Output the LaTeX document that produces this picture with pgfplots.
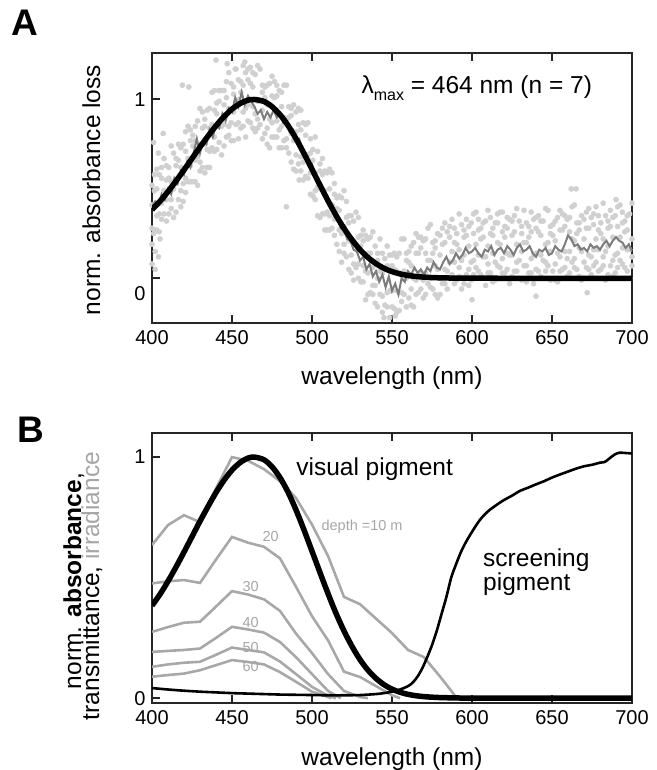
\documentclass[border=0pt]{standalone}
\usepackage{fontspec}
\setmainfont{Liberation Sans}
\usepackage{pgfplots}
\usepackage{pgfplotstable}
\pgfplotsset{compat=1.18}

\definecolor{dotgray}{HTML}{D0D0D0}
\definecolor{meangray}{HTML}{7C7C7C}
\definecolor{irrgray}{HTML}{A8A8A8}
\definecolor{lblgray}{HTML}{A6A6A6}
\definecolor{frame}{HTML}{262626}
\newcommand\fs[1]{\fontsize{#1}{#1}\selectfont}

% ---------- panel A: individual recordings (light dots)
\pgfplotstableread{
x a b c d
400 0.52 0.28 0.41 0.19
403 0.61 0.35 0.50 0.27
406 0.33 0.56 0.42 0.62
409 0.55 0.32 0.63 0.44
412 0.44 0.74 0.39 0.54
415 0.67 0.53 0.37 0.63
418 0.73 0.49 0.62 0.40
421 0.82 0.56 0.71 0.48
424 0.54 0.77 0.63 0.83
427 0.77 0.54 0.85 0.66
430 0.65 0.95 0.60 0.75
433 0.89 0.75 0.59 0.85
436 0.95 0.71 0.84 0.62
439 1.05 0.79 0.94 0.71
442 0.76 0.99 0.85 1.05
445 0.97 0.74 1.05 0.86
448 0.85 1.15 0.80 0.95
451 1.07 0.93 0.77 1.03
454 1.11 0.87 1.00 0.78
457 1.19 0.93 1.08 0.85
460 0.88 1.11 0.97 1.17
463 1.07 0.84 1.15 0.96
466 0.89 1.19 0.84 0.99
469 1.08 0.94 0.78 1.04
472 1.08 0.84 0.97 0.75
475 1.13 0.87 1.02 0.79
478 0.79 1.02 0.88 1.08
481 0.96 0.73 1.04 0.85
484 0.78 1.08 0.73 0.88
487 0.95 0.81 0.65 0.91
490 0.93 0.69 0.82 0.60
493 0.94 0.68 0.83 0.60
496 0.57 0.80 0.66 0.86
499 0.70 0.47 0.78 0.59
502 0.49 0.79 0.44 0.59
505 0.64 0.50 0.34 0.60
508 0.60 0.36 0.49 0.27
511 0.61 0.35 0.50 0.27
514 0.24 0.47 0.33 0.53
517 0.38 0.15 0.46 0.27
520 0.19 0.49 0.14 0.29
523 0.35 0.21 0.05 0.31
526 0.32 0.08 0.21 -0.01
529 0.34 0.08 0.23 0.00
532 -0.02 0.21 0.07 0.27
535 0.14 -0.09 0.22 0.03
538 -0.04 0.26 -0.09 0.06
541 0.14 0.00 -0.16 0.10
544 0.14 -0.10 0.03 -0.19
547 0.18 -0.08 0.07 -0.16
550 -0.16 0.07 -0.07 0.13
553 0.04 -0.19 0.12 -0.07
556 -0.08 0.22 -0.13 0.02
559 0.14 0.00 -0.16 0.10
562 0.18 -0.06 0.07 -0.15
565 0.25 -0.01 0.14 -0.09
568 -0.06 0.17 0.03 0.23
571 0.14 -0.09 0.22 0.03
574 0.00 0.30 -0.05 0.10
577 0.21 0.07 -0.09 0.17
580 0.24 0.00 0.13 -0.09
583 0.31 0.05 0.20 -0.03
586 0.00 0.23 0.09 0.29
589 0.20 -0.03 0.28 0.09
592 0.06 0.36 0.01 0.16
595 0.27 0.13 -0.03 0.23
598 0.29 0.05 0.18 -0.04
601 0.36 0.10 0.25 0.02
604 0.04 0.27 0.13 0.33
607 0.23 0.00 0.31 0.12
610 0.08 0.38 0.03 0.18
613 0.28 0.14 -0.02 0.24
616 0.07 0.31 0.20 0.36
619 0.26 0.11 0.37 0.03
622 0.34 0.05 0.14 0.28
625 0.13 0.24 0.01 0.32
628 0.39 0.09 0.19 0.04
631 0.15 0.29 -0.01 0.25
634 0.20 0.31 0.07 -0.02
637 0.03 0.26 0.37 0.11
640 0.28 0.14 0.05 0.34
643 0.24 0.32 0.13 0.01
646 0.09 0.19 0.39 0.04
649 0.29 -0.01 0.15 0.25
652 0.21 0.32 0.08 -0.01
655 0.12 0.38 0.04 0.27
658 0.35 0.06 0.29 0.15
661 0.26 0.34 0.03 0.15
664 0.11 0.41 0.21 0.06
667 0.31 0.01 0.17 0.27
670 0.22 0.33 0.00 0.09
673 0.05 0.28 0.39 0.13
676 0.30 0.16 0.07 0.36
679 0.16 0.27 0.35 0.04
682 0.42 0.12 0.22 0.07
685 0.18 0.32 0.02 0.28
688 0.23 0.01 0.34 0.10
691 0.40 0.14 0.06 0.29
694 0.31 0.08 0.37 0.17
697 0.16 0.27 0.04 0.35
700 0.22 0.12 0.42 0.07
}\dotsA

\pgfplotstableread{
x a b c
401.5 0.49 0.27 0.58
404.5 0.36 0.58 0.26
407.5 0.49 0.67 0.36
410.5 0.36 0.56 0.62
413.5 0.70 0.50 0.34
416.5 0.66 0.44 0.75
419.5 0.53 0.75 0.43
422.5 0.67 0.85 0.54
425.5 0.54 0.74 0.80
428.5 0.88 0.68 0.52
431.5 0.84 0.62 0.93
434.5 0.72 0.94 0.62
437.5 0.86 1.04 0.73
440.5 0.72 0.92 0.98
443.5 1.05 0.85 0.69
446.5 1.01 0.79 1.10
449.5 0.87 1.09 0.77
452.5 0.99 1.17 0.86
455.5 0.84 1.04 1.10
458.5 1.15 0.95 0.79
461.5 1.09 0.87 1.18
464.5 0.92 1.14 0.82
467.5 0.99 1.17 0.86
470.5 0.81 1.01 1.07
473.5 1.09 0.89 0.73
476.5 1.01 0.79 1.10
479.5 0.83 1.05 0.73
482.5 0.90 1.08 0.77
485.5 0.70 0.90 0.96
488.5 0.97 0.77 0.61
491.5 0.86 0.64 0.95
494.5 0.65 0.87 0.55
497.5 0.69 0.87 0.56
500.5 0.46 0.66 0.72
503.5 0.71 0.51 0.35
506.5 0.58 0.36 0.67
509.5 0.37 0.59 0.27
512.5 0.41 0.59 0.28
515.5 0.19 0.39 0.45
518.5 0.45 0.25 0.09
521.5 0.34 0.12 0.43
524.5 0.13 0.35 0.03
527.5 0.19 0.37 0.06
530.5 -0.02 0.18 0.24
533.5 0.24 0.04 -0.12
536.5 0.14 -0.08 0.23
539.5 -0.04 0.18 -0.14
542.5 0.04 0.22 -0.09
545.5 -0.15 0.05 0.11
548.5 0.13 -0.07 -0.22
551.5 0.05 -0.17 0.14
554.5 -0.08 0.14 -0.18
557.5 0.04 0.22 -0.09
560.5 -0.11 0.09 0.15
563.5 0.20 0.00 -0.16
566.5 0.14 -0.08 0.23
569.5 -0.01 0.21 -0.11
572.5 0.10 0.28 -0.03
575.5 -0.06 0.14 0.20
578.5 0.25 0.05 -0.11
581.5 0.19 -0.03 0.28
584.5 0.04 0.26 -0.06
587.5 0.15 0.33 0.02
590.5 -0.01 0.19 0.25
593.5 0.30 0.10 -0.06
596.5 0.24 0.02 0.33
599.5 0.09 0.31 -0.01
602.5 0.19 0.37 0.06
605.5 0.02 0.22 0.28
608.5 0.32 0.12 -0.04
611.5 0.25 0.03 0.34
614.5 0.09 0.31 -0.01
617.5 0.19 0.37 0.06
620.5 0.03 0.23 0.29
623.5 0.33 0.13 -0.03
626.5 0.26 0.04 0.35
629.5 0.10 0.32 0.00
632.5 0.20 0.38 0.07
635.5 0.03 0.23 0.29
638.5 0.33 0.13 -0.03
641.5 0.26 0.04 0.35
644.5 0.10 0.32 0.00
647.5 0.20 0.38 0.07
650.5 0.04 0.24 0.30
653.5 0.34 0.14 -0.02
656.5 0.27 0.05 0.36
659.5 0.11 0.33 0.01
662.5 0.22 0.40 0.09
665.5 0.05 0.25 0.31
668.5 0.35 0.15 -0.01
671.5 0.28 0.06 0.37
674.5 0.12 0.34 0.02
677.5 0.22 0.40 0.09
680.5 0.05 0.25 0.31
683.5 0.35 0.15 -0.01
686.5 0.29 0.07 0.38
689.5 0.13 0.35 0.03
692.5 0.23 0.41 0.10
695.5 0.06 0.26 0.32
698.5 0.36 0.16 0.00
}\dotsB

\pgfplotstableread{
x y
400 0.08
401 0.25
401 0.76
402 0.05
402 0.15
404 0.70
404 0.12
405 0.22
407 0.81
419 1.08
423 1.07
440 1.22
447 1.20
452 1.17
458 1.21
484 0.40
492 0.55
545 -0.22
552 -0.21
600 -0.12
640 -0.10
662 0.50
665 0.50
672 -0.08
690 0.44
}\dotsExtra

% mean of the recordings (dark grey line)
\pgfplotstableread{
x y
400 0.40
402 0.43
404 0.41
406 0.47
408 0.44
410 0.50
412 0.47
414 0.56
416 0.53
418 0.60
420 0.58
422 0.65
424 0.62
426 0.70
428 0.78
430 0.70
432 0.77
434 0.75
436 0.83
438 0.79
440 0.86
442 0.84
444 0.92
446 0.88
448 0.95
450 0.93
452 1.01
454 0.96
456 1.04
458 0.97
460 1.02
462 0.99
464 0.96
466 0.92
468 0.94
470 0.89
472 0.93
474 0.90
476 0.94
478 0.90
480 0.92
482 0.87
484 0.88
486 0.82
488 0.83
490 0.77
492 0.78
494 0.72
496 0.70
498 0.65
500 0.64
502 0.57
504 0.56
506 0.49
508 0.48
510 0.42
512 0.40
514 0.35
516 0.33
518 0.28
520 0.27
522 0.22
524 0.21
526 0.16
528 0.15
530 0.10
532 0.12
534 0.05
536 0.08
538 0.01
540 0.04
542 -0.02
544 0.02
546 -0.05
548 0.01
550 -0.07
552 -0.03
554 -0.09
556 0.00
558 -0.02
560 0.04
562 0.02
564 0.06
566 0.03
568 0.05
570 0.02
572 0.06
574 0.04
576 0.09
578 0.06
580 0.05
582 0.09
584 0.12
586 0.08
588 0.10
590 0.14
592 0.11
594 0.13
596 0.17
598 0.14
600 0.15
602 0.17
604 0.14
606 0.12
608 0.16
610 0.15
612 0.18
614 0.13
616 0.16
618 0.17
620 0.14
622 0.18
624 0.16
626 0.13
628 0.17
630 0.19
632 0.15
634 0.16
636 0.18
638 0.14
640 0.12
642 0.16
644 0.15
646 0.17
648 0.13
650 0.14
652 0.18
654 0.16
656 0.15
658 0.19
660 0.24
662 0.22
664 0.18
666 0.19
668 0.16
670 0.17
672 0.15
674 0.19
676 0.17
678 0.18
680 0.16
682 0.19
684 0.21
686 0.18
688 0.21
690 0.23
692 0.21
694 0.20
696 0.17
698 0.19
700 0.15
}\meanA

% visual pigment template, lambda max 464 nm
\pgfplotstableread{
x y
400 0.384
405 0.431
410 0.485
415 0.544
420 0.606
425 0.670
430 0.734
435 0.795
440 0.853
445 0.904
450 0.946
455 0.977
460 0.996
464 1.000
470 0.989
475 0.960
480 0.915
485 0.855
490 0.781
495 0.698
500 0.610
505 0.521
510 0.434
515 0.352
520 0.279
525 0.215
530 0.160
535 0.116
540 0.082
545 0.056
550 0.0375
555 0.0246
560 0.0159
565 0.0101
570 0.0064
575 0.0041
580 0.0026
590 0.001
600 0.0004
650 0
700 0
}\vispig

% screening pigment
\pgfplotstableread{
x y
400 0.042
410 0.036
420 0.031
430 0.027
440 0.024
450 0.021
460 0.019
470 0.017
480 0.015
490 0.014
500 0.013
510 0.012
520 0.012
530 0.013
540 0.017
545 0.021
550 0.027
555 0.036
560 0.050
563 0.065
566 0.090
569 0.125
572 0.170
575 0.220
578 0.280
581 0.350
584 0.420
587 0.500
590 0.555
593 0.605
596 0.645
600 0.690
605 0.740
610 0.775
615 0.800
620 0.822
625 0.840
630 0.860
635 0.873
640 0.887
645 0.900
650 0.915
655 0.928
660 0.940
665 0.952
670 0.962
675 0.968
680 0.977
683 0.980
686 0.995
689 1.010
692 1.018
696 1.017
700 1.015
}\screen

% downwelling irradiance at depth 10, 20, 30, 40, 50, 60 m
\pgfplotstableread{
x y
400 0.635
410 0.718
420 0.759
430 0.730
440 0.870
450 1.000
460 0.985
470 0.950
480 0.900
490 0.830
500 0.720
510 0.590
520 0.420
530 0.390
540 0.330
550 0.270
560 0.200
570 0.170
580 0.090
590 0.005
595 0
}\dten
\pgfplotstableread{
x y
400 0.476
410 0.485
420 0.490
430 0.478
440 0.575
450 0.669
460 0.645
470 0.628
480 0.580
490 0.462
500 0.340
510 0.240
520 0.110
530 0.088
540 0.050
550 0.012
555 0
}\dtwenty
\pgfplotstableread{
x y
400 0.275
410 0.295
420 0.313
430 0.317
440 0.380
450 0.444
460 0.430
470 0.410
480 0.362
490 0.268
500 0.187
510 0.100
520 0.030
530 0.005
535 0
}\dthirty
\pgfplotstableread{
x y
400 0.192
410 0.196
420 0.200
430 0.206
440 0.250
450 0.296
460 0.285
470 0.272
480 0.233
490 0.170
500 0.100
510 0.030
518 0
}\dforty
\pgfplotstableread{
x y
400 0.130
410 0.140
420 0.147
430 0.151
440 0.180
450 0.210
460 0.200
470 0.190
480 0.152
490 0.100
500 0.047
510 0.010
515 0
}\dfifty
\pgfplotstableread{
x y
400 0.089
410 0.096
420 0.102
430 0.116
440 0.137
450 0.158
460 0.150
470 0.140
480 0.108
490 0.068
500 0.027
510 0.005
512 0
}\dsixty

\pgfplotsset{
  panel/.style={
    width=480pt, height=270pt, scale only axis,
    xmin=400, xmax=700, xtick={400,450,...,700},
    xtick pos=both, ytick pos=left, xticklabel pos=lower,
    tick align=inside, major tick length=8pt,
    tick style={line width=2pt, color=frame},
    axis line style={line width=2pt, color=frame},
    tick label style={font=\fs{20}},
    /pgf/number format/assume math mode=true,
    xticklabel shift=4pt, yticklabel shift=3pt,
    clip mode=individual,
  },
  dots/.style={only marks, mark=*, mark size=2.6pt, color=dotgray},
}

\begin{document}
\begin{tikzpicture}
\useasboundingbox (0,0) rectangle (656pt,770pt);

% ---------------- panel A
\begin{axis}[panel, at={(152pt,447pt)}, anchor=south west,
  ymin=-0.25, ymax=1.26, ytick={1},
  extra y ticks={0},
  extra y tick style={yticklabel style={yshift=-15pt}},
]
\foreach \c in {a,b,c,d}{
  \addplot[dots] table[x=x, y=\c] {\dotsA};
}
\foreach \c in {a,b,c}{
  \addplot[dots] table[x=x, y=\c] {\dotsB};
}
\addplot[dots] table[x=x, y=y] {\dotsExtra};
\addplot[meangray, line width=2pt] table[x=x, y=y] {\meanA};
\addplot[black, line width=5.5pt, smooth] table[x=x, y=y] {\vispig};
\node[anchor=base west, font=\fs{24.5}] at (axis cs:528.75,1.034)
  {λ\raisebox{-7pt}{\fs{16}max} = 464 nm (n = 7)};
\end{axis}

% ---------------- panel B
\begin{axis}[panel, at={(152pt,67pt)}, anchor=south west,
  ymin=-0.02, ymax=1.10, ytick={0,1},
]
\addplot[irrgray, line width=2.6pt] table[x=x, y=y] {\dten};
\addplot[irrgray, line width=2.6pt] table[x=x, y=y] {\dtwenty};
\addplot[irrgray, line width=2.6pt] table[x=x, y=y] {\dthirty};
\addplot[irrgray, line width=2.6pt] table[x=x, y=y] {\dforty};
\addplot[irrgray, line width=2.6pt] table[x=x, y=y] {\dfifty};
\addplot[irrgray, line width=2.6pt] table[x=x, y=y] {\dsixty};
\addplot[black, line width=2.6pt, smooth] table[x=x, y=y] {\screen};
\addplot[black, line width=5.5pt, smooth] table[x=x, y=y] {\vispig};
\node[anchor=base west, font=\fs{24.5}] at (axis cs:488,0.925) {visual pigment};
\node[anchor=north west, inner sep=0pt, align=left,
  font=\fontsize{24.5}{20}\selectfont] at (axis cs:606.9,0.620) {screening\\pigment};
\node[font=\fs{14.5}, text=lblgray] at (axis cs:531.3,0.710) {depth =10 m};
\node[font=\fs{14.5}, text=lblgray] at (axis cs:474.2,0.669) {20};
\node[font=\fs{14.5}, text=lblgray] at (axis cs:461.7,0.465) {30};
\node[font=\fs{14.5}, text=lblgray] at (axis cs:461.7,0.314) {40};
\node[font=\fs{14.5}, text=lblgray] at (axis cs:461.7,0.211) {50};
\node[font=\fs{14.5}, text=lblgray] at (axis cs:461.7,0.133) {60};
\end{axis}

% ---------------- labels
\node[font=\fs{37}\bfseries] at (25pt,747pt) {A};
\node[font=\fs{37}\bfseries] at (31pt,340pt) {B};
\node[rotate=90, anchor=base, font=\fs{24.5}] at (100pt,580pt) {norm. absorbance loss};
\node[anchor=base, font=\fs{24.5}] at (392pt,385pt) {wavelength (nm)};
\node[rotate=90, anchor=base, font=\fs{24.5}] at (81pt,189pt) {norm. \textbf{absorbance},};
\node[rotate=90, anchor=base, font=\fs{24.5}] at (99pt,184pt) {transmittance, \textcolor{lblgray}{irradiance}};
\node[anchor=base, font=\fs{24.5}] at (392pt,5pt) {wavelength (nm)};
\end{tikzpicture}
\end{document}
